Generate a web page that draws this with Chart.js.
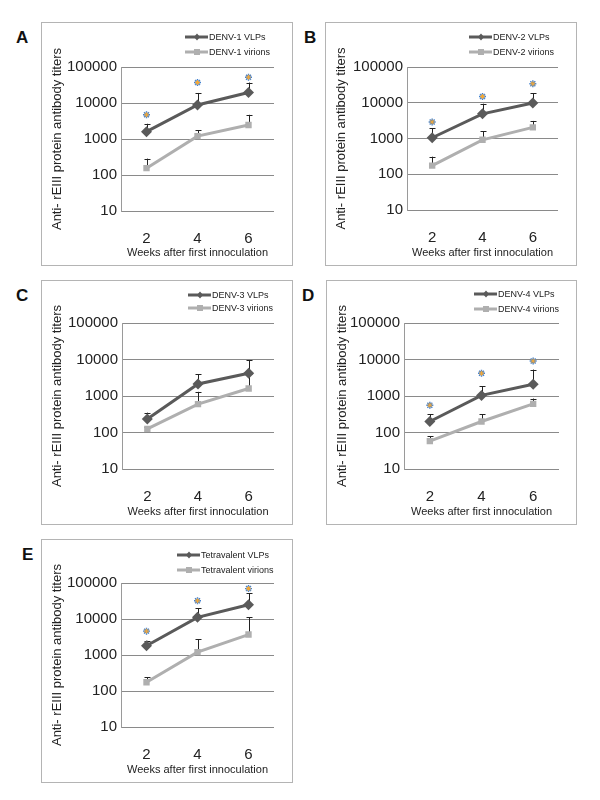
<!DOCTYPE html>
<html>
<head>
<meta charset="utf-8">
<script src="https://cdn.jsdelivr.net/npm/chart.js@4.4.1/dist/chart.umd.min.js"></script>
<style>
  body { margin: 0; background: #fff; font-family: "Liberation Sans", Arial, sans-serif; }
  #page { position: relative; width: 600px; height: 800px; }
  .box { position: absolute; box-sizing: border-box; border: 1px solid #b4b4b4; }
  .box div { position: relative; width: 100%; height: 100%; }
  .lbl { position: absolute; font: bold 17px "Liberation Sans", Arial, sans-serif; color: #111; }
</style>
</head>
<body>
<div id="page"></div>
<script>
// weeks after first inoculation
var weeks = ['2', '4', '6'];

// DENV-1
var denv1Vlps = [1600, 8800, 19600];
var denv1VlpsErr = [2650, 19000, 37000];
var denv1Virions = [155, 1200, 2450];
var denv1VirionsErr = [285, 1750, 4700];
var denv1Stars = [4700, 37000, 52000];

// DENV-2
var denv2Vlps = [1050, 4900, 9800];
var denv2VlpsErr = [1950, 9400, 18500];
var denv2Virions = [175, 920, 2050];
var denv2VirionsErr = [310, 1600, 3100];
var denv2Stars = [2900, 15000, 34000];

// DENV-3
var denv3Vlps = [235, 2130, 4200];
var denv3VlpsErr = [350, 3900, 9500];
var denv3Virions = [126, 600, 1600];
var denv3VirionsErr = [140, 1300, 3900];
var denv3Stars = [null, null, null];

// DENV-4
var denv4Vlps = [200, 1040, 2100];
var denv4VlpsErr = [320, 1870, 5300];
var denv4Virions = [58, 200, 610];
var denv4VirionsErr = [78, 320, 850];
var denv4Stars = [560, 4200, 9100];

// Tetravalent
var tetraVlps = [1800, 11100, 25000];
var tetraVlpsErr = [2480, 20000, 52000];
var tetraVirions = [175, 1200, 3700];
var tetraVirionsErr = [240, 2700, 11300];
var tetraStars = [4600, 32000, 70000];

var yTicks = [10, 100, 1000, 10000, 100000];

var DARK = '#5a5a5a';
var LIGHT = '#afafaf';
var FONT = '"Liberation Sans", Arial, sans-serif';

// エラーバー（上方向のみ）
var errorBars = {
  id: 'errorBars',
  beforeDatasetsDraw: function(chart) {
    var ctx = chart.ctx;
    var y = chart.scales.y;
    ctx.save();
    ctx.strokeStyle = '#222';
    ctx.lineWidth = 1;
    chart.data.datasets.forEach(function(ds, i) {
      if (!ds.errTop) return;
      var meta = chart.getDatasetMeta(i);
      meta.data.forEach(function(pt, j) {
        var top = y.getPixelForValue(ds.errTop[j]);
        var x = Math.round(pt.x) + 0.5;
        ctx.beginPath();
        ctx.moveTo(x, pt.y);
        ctx.lineTo(x, top);
        ctx.moveTo(x - 3, Math.round(top) + 0.5);
        ctx.lineTo(x + 3, Math.round(top) + 0.5);
        ctx.stroke();
      });
    });
    ctx.restore();
  }
};

// 凡例（右上に縦並び）
var boxLegend = {
  id: 'boxLegend',
  afterDraw: function(chart) {
    var o = chart.options.plugins.boxLegend;
    var ctx = chart.ctx;
    ctx.save();
    ctx.font = '9px ' + FONT;
    ctx.textBaseline = 'middle';
    o.items.forEach(function(it, k) {
      var yy = o.ys[k];
      ctx.strokeStyle = it.color;
      ctx.fillStyle = it.color;
      ctx.lineWidth = 3;
      ctx.beginPath();
      ctx.moveTo(o.x, yy);
      ctx.lineTo(o.x + 23, yy);
      ctx.stroke();
      var cx = o.x + 12;
      ctx.beginPath();
      if (it.diamond) {
        ctx.moveTo(cx, yy - 3.5); ctx.lineTo(cx + 3, yy); ctx.lineTo(cx, yy + 3.5); ctx.lineTo(cx - 3, yy);
      } else {
        ctx.rect(cx - 3, yy - 3, 6, 6);
      }
      ctx.fill();
      ctx.fillStyle = '#222';
      ctx.fillText(it.text, o.x + 24, yy + 0.5);
    });
    ctx.restore();
  }
};

function panel(p) {
  var page = document.getElementById('page');
  var box = document.createElement('div');
  box.className = 'box';
  box.style.left = p.box[0] + 'px';
  box.style.top = p.box[1] + 'px';
  box.style.width = (p.box[2] - p.box[0]) + 'px';
  box.style.height = (p.box[3] - p.box[1]) + 'px';
  var inner = document.createElement('div');
  var cv = document.createElement('canvas');
  inner.appendChild(cv);
  box.appendChild(inner);
  page.appendChild(box);

  var lbl = document.createElement('div');
  lbl.className = 'lbl';
  lbl.textContent = p.letter;
  lbl.style.left = p.lp[0] + 'px';
  lbl.style.top = p.lp[1] + 'px';
  page.appendChild(lbl);

  new Chart(cv.getContext('2d'), {
    type: 'line',
    data: {
      labels: weeks,
      datasets: [{
        label: p.names[1],
        data: p.virions,
        errTop: p.virionsErr,
        borderColor: LIGHT,
        backgroundColor: LIGHT,
        borderWidth: 3,
        pointStyle: 'rect',
        pointRadius: 4.5,
        pointBorderWidth: 0
      }, {
        label: p.names[0],
        data: p.vlps,
        errTop: p.vlpsErr,
        borderColor: DARK,
        backgroundColor: DARK,
        borderWidth: 3,
        pointStyle: 'rectRot',
        pointRadius: 5.5,
        pointBorderWidth: 0
      }, {
        label: 'p-shadow',
        data: p.stars,
        showLine: false,
        pointStyle: 'star',
        pointRadius: 2.5,
        pointBorderColor: '#f2a93b',
        pointBackgroundColor: 'rgba(0,0,0,0)',
        pointBorderWidth: 1
      }, {
        label: 'p',
        data: p.stars,
        showLine: false,
        pointStyle: 'star',
        pointRadius: 3.5,
        pointBorderColor: '#3f7fcf',
        pointBackgroundColor: 'rgba(0,0,0,0)',
        pointBorderWidth: 1.4
      }]
    },
    options: {
      responsive: true,
      maintainAspectRatio: false,
      animation: false,
      layout: { padding: { left: 0, top: p.pad[1], right: p.pad[2], bottom: 0 } },
      plugins: {
        legend: { display: false },
        tooltip: { enabled: false },
        boxLegend: {
          x: p.legX,
          ys: p.legY,
          items: [
            { text: p.names[0], color: DARK, diamond: true },
            { text: p.names[1], color: LIGHT, diamond: false }
          ]
        }
      },
      scales: {
        x: {
          offset: true,
          grid: { display: false, drawTicks: false },
          border: { display: false },
          ticks: { color: '#222', font: { family: FONT, size: 15 }, padding: 19 },
          title: {
            display: true,
            text: 'Weeks after first innoculation',
            color: '#222',
            font: { family: FONT, size: 11 },
            padding: { top: 0, bottom: 5 }
          },
          afterFit: function(s) { s.height = p.pad[3]; }
        },
        y: {
          type: 'logarithmic',
          min: 10,
          max: 100000,
          afterBuildTicks: function(s) {
            s.ticks = yTicks.map(function(v) { return { value: v }; });
          },
          grid: { color: '#8a8a8a', lineWidth: 1, drawTicks: false },
          border: { display: true, color: '#9a9a9a' },
          ticks: {
            color: '#222',
            font: { family: FONT, size: 15 },
            padding: 4,
            callback: function(v) { return String(v); }
          },
          title: {
            display: true,
            text: 'Anti- rEIII protein antibody titers',
            color: '#222',
            font: { family: FONT, size: 13 },
            padding: { top: 8, bottom: 0 }
          },
          afterFit: function(s) { s.width = p.pad[0]; }
        }
      }
    },
    plugins: [errorBars, boxLegend]
  });
}

// pad = [plot left, plot top, right gap, bottom gap] inside box
panel({
  letter: 'A', lp: [16, 28], box: [41, 22, 293, 266], pad: [79, 44, 18, 54],
  names: ['DENV-1 VLPs', 'DENV-1 virions'], legX: 143, legY: [14, 29],
  vlps: denv1Vlps, vlpsErr: denv1VlpsErr, virions: denv1Virions, virionsErr: denv1VirionsErr, stars: denv1Stars
});
panel({
  letter: 'B', lp: [304, 28], box: [325, 22, 577, 266], pad: [81, 44, 18, 55],
  names: ['DENV-2 VLPs', 'DENV-2 virions'], legX: 143, legY: [14, 29],
  vlps: denv2Vlps, vlpsErr: denv2VlpsErr, virions: denv2Virions, virionsErr: denv2VirionsErr, stars: denv2Stars
});
panel({
  letter: 'C', lp: [16, 286], box: [41, 280, 293, 525], pad: [80, 42, 18, 55],
  names: ['DENV-3 VLPs', 'DENV-3 virions'], legX: 146, legY: [14, 27],
  vlps: denv3Vlps, vlpsErr: denv3VlpsErr, virions: denv3Virions, virionsErr: denv3VirionsErr, stars: denv3Stars
});
panel({
  letter: 'D', lp: [302, 286], box: [326, 280, 577, 525], pad: [77, 42, 17, 55],
  names: ['DENV-4 VLPs', 'DENV-4 virions'], legX: 147, legY: [13, 28],
  vlps: denv4Vlps, vlpsErr: denv4VlpsErr, virions: denv4Virions, virionsErr: denv4VirionsErr, stars: denv4Stars
});
panel({
  letter: 'E', lp: [22, 545], box: [41, 539, 293, 783], pad: [79, 43, 18, 55],
  names: ['Tetravalent VLPs', 'Tetravalent virions'], legX: 135, legY: [15, 30],
  vlps: tetraVlps, vlpsErr: tetraVlpsErr, virions: tetraVirions, virionsErr: tetraVirionsErr, stars: tetraStars
});
</script>
</body>
</html>
